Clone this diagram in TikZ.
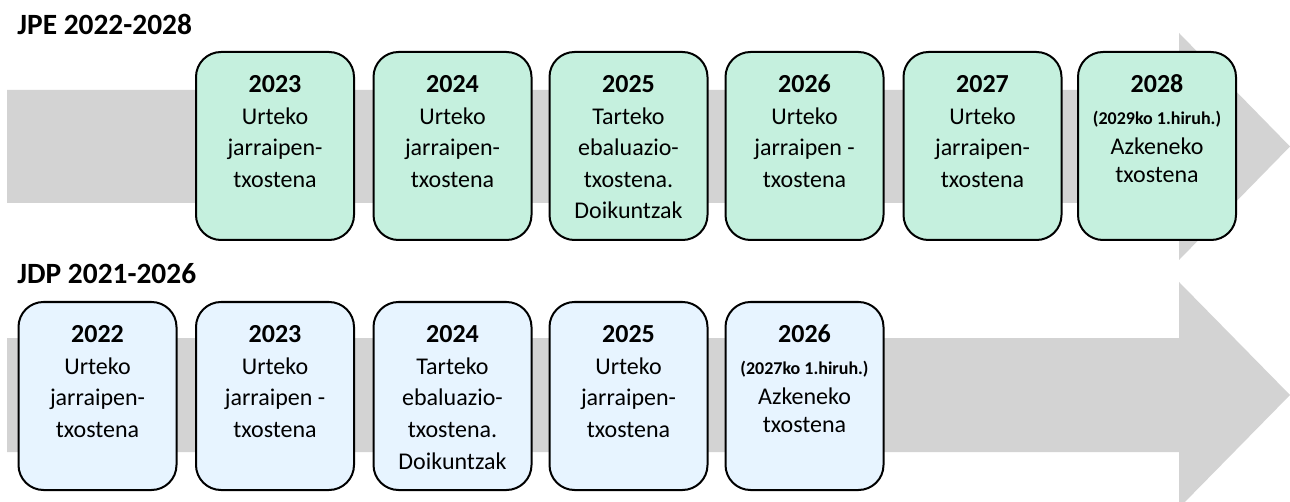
\documentclass[tikz,border=0pt]{standalone}
\usepackage{fontspec}
\setmainfont{Carlito}
\definecolor{xMint}{RGB}{197,240,222}
\definecolor{xSky}{RGB}{231,244,255}
\definecolor{xBand}{RGB}{211,211,211}
\newcommand{\Yr}[2]{{\fontsize{13}{15.75}\selectfont\bfseries #1}\\#2}
\newcommand{\Qt}[1]{{\fontsize{9}{11}\selectfont\bfseries #1}}
\tikzset{
  jpe/.style={draw, line width=1pt, rounded corners=12.5pt, fill=xMint, align=flush center,
              text width=79pt, inner sep=0pt, text height=20.5pt, text depth=73.5pt,
              font=\fontsize{12}{15.75}\selectfont},
  jdp/.style={draw, line width=1pt, rounded corners=12.5pt, fill=xSky, align=flush center,
              text width=79pt, inner sep=0pt, text height=20.5pt, text depth=73.5pt,
              font=\fontsize{12}{15.75}\selectfont},
  band/.style={fill=xBand},
  head/.style={anchor=base west, inner sep=0pt, font=\fontsize{14.7}{17}\selectfont\bfseries},
}

\begin{document}
\begin{tikzpicture}[x=0.5pt, y=-0.5pt]
    \useasboundingbox (0,0) rectangle (1290,502);
    \fill[band] (7,90) -- (1179,90) -- (1179,33) -- (1290,146.5) -- (1179,260) -- (1179,203) -- (7,203) -- cycle;
    \fill[band] (7,338) -- (1179,338) -- (1179,282) -- (1290,395) -- (1179,508) -- (1179,452) -- (7,452) -- cycle;
    \node[head] (tj) at (17,35)  {JPE 2022-2028};
    \node[head] (td) at (17,284) {JDP 2021-2026};
    \node[jpe] (j23) at (275,146)    {\Yr{2023}{Urteko\\jarraipen-\\txostena}};
    \node[jpe] (j24) at (452.5,146)  {\Yr{2024}{Urteko\\jarraipen-\\txostena}};
    \node[jpe] (j25) at (628.5,146)  {\Yr{2025}{Tarteko\\ebaluazio-\\txostena.\\Doikuntzak}};
    \node[jpe] (j26) at (804.5,146)  {\Yr{2026}{Urteko\\jarraipen -\\txostena}};
    \node[jpe] (j27) at (982.5,146)  {\Yr{2027}{Urteko\\jarraipen-\\txostena}};
    \node[jpe] (j28) at (1157,146)   {\Yr{2028}{\Qt{(2029ko 1.hiruh.)}\\[-0.75pt]Azkeneko\\[-1.5pt]txostena}};
    \node[jdp] (d22) at (97.5,396)   {\Yr{2022}{Urteko\\jarraipen-\\txostena}};
    \node[jdp] (d23) at (275,396)    {\Yr{2023}{Urteko\\jarraipen -\\txostena}};
    \node[jdp] (d24) at (452.5,396)  {\Yr{2024}{Tarteko\\ebaluazio-\\txostena.\\Doikuntzak}};
    \node[jdp] (d25) at (628.5,396)  {\Yr{2025}{Urteko\\jarraipen-\\txostena}};
    \node[jdp] (d26) at (804.5,396)  {\Yr{2026}{\Qt{(2027ko 1.hiruh.)}\\[-0.75pt]Azkeneko\\[-1.5pt]txostena}};
\end{tikzpicture}
\end{document}
